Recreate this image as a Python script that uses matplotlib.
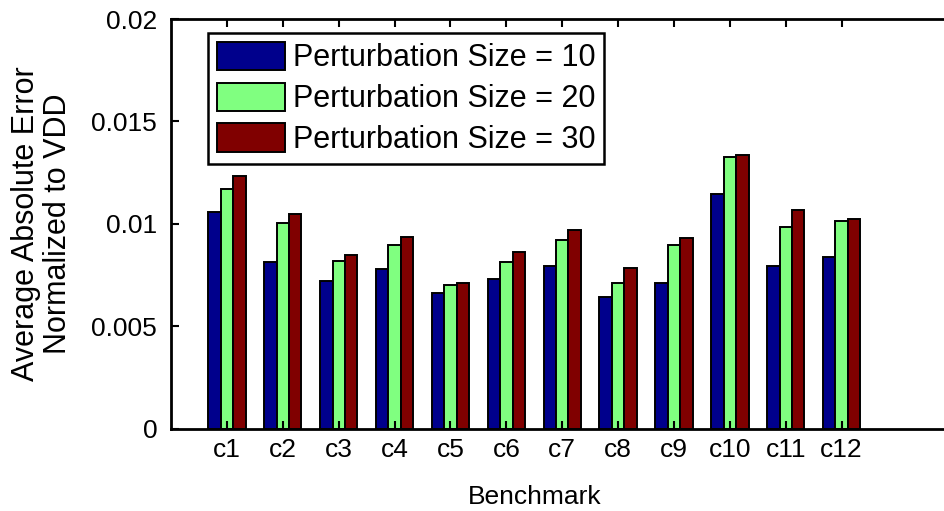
import numpy as np
import matplotlib
matplotlib.use("Agg")
import matplotlib.pyplot as plt

plt.rcParams['font.family'] = ['Liberation Sans', 'DejaVu Sans']

benchmarks = ["c1", "c2", "c3", "c4", "c5", "c6", "c7", "c8", "c9", "c10", "c11", "c12"]
size10 = [0.01058, 0.00811, 0.00722, 0.00777, 0.00660, 0.00730,
          0.00794, 0.00644, 0.00713, 0.01144, 0.00792, 0.00836]
size20 = [0.01168, 0.01003, 0.00818, 0.00894, 0.00701, 0.00815,
          0.00922, 0.00709, 0.00894, 0.01325, 0.00985, 0.01011]
size30 = [0.01233, 0.01050, 0.00847, 0.00933, 0.00713, 0.00862,
          0.00969, 0.00784, 0.00931, 0.01338, 0.01066, 0.01022]
labels = ["Perturbation Size = 10", "Perturbation Size = 20", "Perturbation Size = 30"]
colors = ["#00008c", "#80ff80", "#800000"]
yticks = [0, 0.005, 0.01, 0.015, 0.02]
ytick_labels = ["0", "0.005", "0.01", "0.015", "0.02"]

W, H = 944, 511
fig = plt.figure(figsize=(W / 100, H / 100), dpi=100)
# axes runs past the right edge of the picture, as in the reference
ax = fig.add_axes([171.1 / W, 1 - 428.5 / H, 782.3 / W, 409.5 / H])

x = np.arange(1, len(benchmarks) + 1)
bw = 0.667 / 3
for i, vals in enumerate([size10, size20, size30]):
    ax.bar(x + (i - 1) * bw, vals, width=bw, color=colors[i],
           edgecolor="black", linewidth=1.4, label=labels[i])

ax.set_xlim(0, 14)
ax.set_ylim(0, 0.02)
ax.set_xticks(x)
ax.set_xticklabels(benchmarks)
ax.set_yticks(yticks)
ax.set_yticklabels(ytick_labels)
ax.tick_params(axis="both", direction="in", length=5.8, width=1.5,
               top=True, right=True, labelsize=19)
ax.tick_params(axis="y", pad=10)
ax.tick_params(axis="x", pad=7)
for s in ax.spines.values():
    s.set_linewidth(2)

fig.text(535 / W, 1 - 497 / H, "Benchmark", ha="center", va="center", fontsize=19)
fig.text(42 / W, 1 - 224 / H, "Average Absolute Error\nNormalized to VDD",
         rotation=90, ha="center", va="center", multialignment="center",
         fontsize=22, linespacing=1.1)

leg = ax.legend(loc="upper left", bbox_to_anchor=(208 / W, 1 - 32.7 / H),
                bbox_transform=fig.transFigure, borderaxespad=0,
                fontsize=22, handlelength=2.22, handleheight=1.05,
                labelspacing=0.3, handletextpad=0.25, borderpad=0.3,
                fancybox=False, framealpha=1, edgecolor="black")
leg.get_frame().set_linewidth(1.8)

fig.savefig("out.png", dpi=100)
